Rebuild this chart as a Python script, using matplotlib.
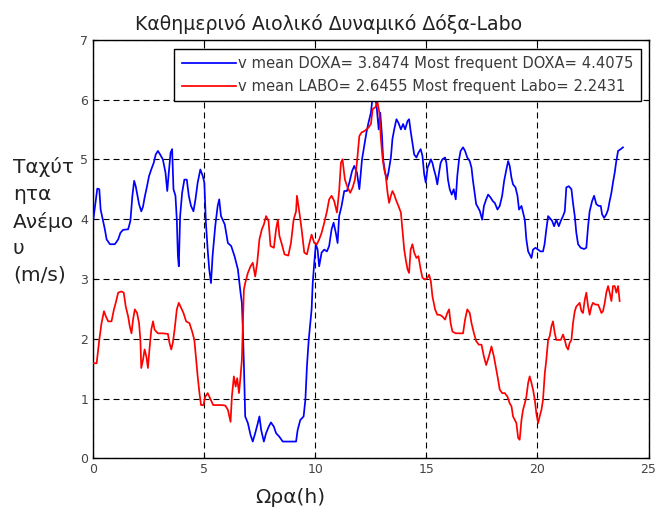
import matplotlib
matplotlib.use("Agg")
import matplotlib.pyplot as plt

# Wind speed samples over the day (hours, m/s)
doxa_hours = [
    0.00, 0.07, 0.18, 0.27, 0.33, 0.42, 0.52, 0.60, 0.75, 0.97, 1.12, 1.22, 1.34, 1.57, 1.67,
    1.76, 1.84, 1.91, 1.99, 2.06, 2.16, 2.24, 2.31, 2.42, 2.51, 2.61, 2.72, 2.81, 2.91, 3.01,
    3.13, 3.25, 3.33, 3.40, 3.48, 3.55, 3.61, 3.70, 3.76, 3.81, 3.85, 3.91, 4.00, 4.10, 4.21,
    4.30, 4.40, 4.51, 4.60, 4.70, 4.82, 4.93, 5.00, 5.07, 5.15, 5.22, 5.30, 5.37, 5.49, 5.60,
    5.67, 5.75, 5.92, 6.06, 6.21, 6.36, 6.51, 6.63, 6.69, 6.73, 6.78, 6.84, 6.96, 7.08, 7.18,
    7.29, 7.41, 7.48, 7.56, 7.68, 7.78, 7.90, 8.00, 8.13, 8.23, 8.38, 8.53, 8.83, 9.13, 9.20,
    9.32, 9.47, 9.55, 9.62, 9.70, 9.77, 9.83, 9.88, 9.95, 10.02, 10.10, 10.17, 10.28, 10.40, 10.52,
    10.62, 10.73, 10.82, 10.92, 11.00, 11.07, 11.18, 11.30, 11.42, 11.53, 11.65, 11.75, 11.87, 11.98, 12.10,
    12.20, 12.30, 12.39, 12.50, 12.58, 12.68, 12.76, 12.85, 12.92, 13.00, 13.05, 13.14, 13.22, 13.29, 13.40,
    13.47, 13.55, 13.65, 13.74, 13.85, 13.95, 14.04, 14.15, 14.22, 14.29, 14.37, 14.45, 14.55, 14.64, 14.74,
    14.82, 14.90, 14.97, 15.05, 15.12, 15.20, 15.27, 15.34, 15.42, 15.49, 15.57, 15.64, 15.72, 15.84, 15.90,
    15.97, 16.05, 16.14, 16.23, 16.32, 16.39, 16.47, 16.54, 16.65, 16.74, 16.84, 16.95, 17.03, 17.09, 17.17,
    17.24, 17.33, 17.41, 17.51, 17.59, 17.69, 17.78, 17.89, 17.99, 18.08, 18.20, 18.30, 18.41, 18.50, 18.60,
    18.68, 18.75, 18.83, 18.90, 19.01, 19.10, 19.17, 19.28, 19.35, 19.43, 19.50, 19.58, 19.65, 19.73, 19.80,
    19.91, 20.03, 20.13, 20.25, 20.32, 20.40, 20.48, 20.55, 20.66, 20.75, 20.85, 20.96, 21.05, 21.15, 21.23,
    21.30, 21.41, 21.53, 21.60, 21.68, 21.75, 21.83, 21.95, 22.10, 22.20, 22.28, 22.35, 22.46, 22.55, 22.65,
    22.76, 22.85, 22.91, 23.00, 23.10, 23.18, 23.25, 23.33, 23.40, 23.48, 23.55, 23.63, 23.75, 23.85,
]
doxa_speed = [
    3.99, 4.19, 4.51, 4.50, 4.16, 4.00, 3.83, 3.66, 3.58, 3.58, 3.66, 3.77, 3.82, 3.83, 3.97,
    4.39, 4.64, 4.55, 4.39, 4.25, 4.13, 4.21, 4.36, 4.55, 4.72, 4.83, 4.94, 5.08, 5.14, 5.08,
    5.00, 4.78, 4.47, 4.78, 5.11, 5.17, 4.50, 4.39, 3.99, 3.38, 3.21, 4.05, 4.44, 4.66, 4.66,
    4.39, 4.22, 4.13, 4.33, 4.61, 4.83, 4.72, 4.61, 3.94, 3.49, 3.16, 2.93, 3.38, 3.88, 4.22,
    4.33, 4.05, 3.91, 3.60, 3.55, 3.38, 3.16, 2.77, 2.60, 2.20, 1.59, 0.70, 0.59, 0.39, 0.28,
    0.42, 0.59, 0.70, 0.47, 0.28, 0.42, 0.53, 0.60, 0.53, 0.42, 0.36, 0.28, 0.28, 0.28, 0.47,
    0.64, 0.70, 0.98, 1.54, 1.98, 2.26, 2.49, 2.93, 3.27, 3.58, 3.49, 3.21, 3.44, 3.49, 3.46,
    3.55, 3.83, 3.94, 3.77, 3.60, 4.05, 4.22, 4.47, 4.47, 4.61, 4.80, 4.89, 4.78, 4.50, 5.00,
    5.22, 5.45, 5.61, 5.78, 6.05, 6.10, 5.87, 5.50, 5.78, 5.39, 5.00, 4.78, 4.66, 4.78, 5.03,
    5.34, 5.50, 5.67, 5.61, 5.50, 5.59, 5.50, 5.64, 5.67, 5.47, 5.28, 5.08, 5.03, 5.11, 5.17,
    5.06, 4.75, 4.61, 4.86, 4.92, 5.00, 4.94, 4.83, 4.72, 4.58, 4.78, 4.94, 5.00, 5.03, 4.94,
    4.66, 4.50, 4.41, 4.50, 4.33, 4.72, 5.00, 5.14, 5.20, 5.14, 5.03, 4.97, 4.86, 4.66, 4.44,
    4.25, 4.19, 4.13, 3.99, 4.22, 4.33, 4.41, 4.36, 4.30, 4.27, 4.16, 4.22, 4.39, 4.64, 4.83,
    4.97, 4.89, 4.69, 4.58, 4.53, 4.39, 4.16, 4.22, 4.11, 3.99, 3.66, 3.46, 3.41, 3.35, 3.49,
    3.52, 3.49, 3.46, 3.46, 3.58, 3.83, 4.05, 4.02, 3.97, 3.88, 3.99, 3.88, 3.97, 4.05, 4.13,
    4.53, 4.55, 4.50, 4.27, 4.05, 3.77, 3.58, 3.52, 3.50, 3.52, 3.88, 4.13, 4.30, 4.39, 4.25,
    4.22, 4.22, 4.08, 4.02, 4.08, 4.16, 4.30, 4.44, 4.61, 4.78, 4.97, 5.14, 5.17, 5.20,
]

labo_hours = [
    0.00, 0.15, 0.27, 0.37, 0.48, 0.57, 0.67, 0.82, 0.93, 1.01, 1.12, 1.27, 1.37, 1.46, 1.57,
    1.64, 1.72, 1.79, 1.87, 1.97, 2.06, 2.12, 2.16, 2.24, 2.31, 2.39, 2.46, 2.54, 2.61, 2.69,
    2.76, 2.91, 3.13, 3.36, 3.43, 3.51, 3.58, 3.66, 3.76, 3.85, 3.96, 4.06, 4.18, 4.33, 4.45,
    4.55, 4.63, 4.70, 4.78, 4.85, 4.96, 5.04, 5.15, 5.25, 5.40, 5.60, 5.82, 5.95, 6.06, 6.18,
    6.24, 6.33, 6.41, 6.48, 6.56, 6.63, 6.69, 6.73, 6.78, 6.84, 6.96, 7.08, 7.18, 7.29, 7.38,
    7.48, 7.59, 7.68, 7.78, 7.89, 7.98, 8.13, 8.23, 8.31, 8.38, 8.49, 8.61, 8.78, 8.90, 9.02,
    9.13, 9.17, 9.28, 9.38, 9.50, 9.62, 9.72, 9.83, 9.95, 10.07, 10.17, 10.28, 10.40, 10.52, 10.62,
    10.73, 10.85, 10.97, 11.07, 11.15, 11.22, 11.33, 11.45, 11.57, 11.68, 11.78, 11.87, 11.98, 12.08, 12.20,
    12.30, 12.39, 12.50, 12.58, 12.70, 12.80, 12.88, 12.95, 13.03, 13.10, 13.17, 13.25, 13.32, 13.40, 13.47,
    13.55, 13.62, 13.74, 13.85, 13.92, 14.00, 14.07, 14.15, 14.22, 14.29, 14.37, 14.45, 14.55, 14.64, 14.74,
    14.82, 14.94, 15.05, 15.12, 15.20, 15.27, 15.39, 15.49, 15.60, 15.72, 15.84, 15.94, 16.02, 16.09, 16.17,
    16.32, 16.47, 16.65, 16.74, 16.84, 16.95, 17.03, 17.14, 17.24, 17.36, 17.48, 17.59, 17.69, 17.81, 17.93,
    18.04, 18.15, 18.23, 18.30, 18.41, 18.53, 18.65, 18.75, 18.83, 18.90, 18.98, 19.05, 19.13, 19.20, 19.28,
    19.35, 19.43, 19.50, 19.58, 19.65, 19.73, 19.80, 19.88, 19.95, 20.03, 20.10, 20.18, 20.25, 20.33, 20.40,
    20.48, 20.55, 20.63, 20.70, 20.78, 20.85, 20.96, 21.05, 21.15, 21.23, 21.30, 21.38, 21.45, 21.53, 21.60,
    21.68, 21.75, 21.83, 21.90, 21.98, 22.05, 22.13, 22.20, 22.28, 22.35, 22.43, 22.50, 22.61, 22.73, 22.80,
    22.88, 22.95, 23.03, 23.10, 23.18, 23.25, 23.33, 23.40, 23.48, 23.55, 23.63, 23.70,
]
labo_speed = [
    1.59, 1.59, 1.98, 2.26, 2.46, 2.37, 2.29, 2.29, 2.49, 2.60, 2.77, 2.79, 2.77, 2.54, 2.37,
    2.21, 2.09, 2.32, 2.49, 2.43, 2.26, 1.98, 1.51, 1.65, 1.82, 1.70, 1.51, 1.87, 2.15, 2.29,
    2.15, 2.09, 2.09, 2.08, 1.93, 1.82, 1.93, 2.15, 2.49, 2.60, 2.51, 2.43, 2.29, 2.26, 2.12,
    1.98, 1.65, 1.37, 1.09, 0.89, 0.89, 1.03, 1.09, 1.01, 0.89, 0.89, 0.89, 0.88, 0.81, 0.61,
    1.03, 1.37, 1.20, 1.34, 1.09, 1.37, 1.65, 2.20, 2.82, 2.93, 3.10, 3.21, 3.27, 3.04, 3.27,
    3.66, 3.83, 3.91, 4.05, 3.97, 3.55, 3.52, 3.83, 3.99, 3.72, 3.58, 3.41, 3.39, 3.60, 3.99,
    4.13, 4.39, 4.11, 3.83, 3.44, 3.41, 3.58, 3.74, 3.60, 3.58, 3.66, 3.77, 3.94, 4.13, 4.33,
    4.39, 4.30, 4.11, 4.47, 4.94, 5.00, 4.66, 4.53, 4.44, 4.53, 4.66, 4.94, 5.39, 5.45, 5.47,
    5.50, 5.53, 5.59, 5.84, 5.87, 5.95, 5.78, 5.34, 5.00, 4.83, 4.72, 4.44, 4.27, 4.39, 4.47,
    4.41, 4.33, 4.22, 4.11, 3.83, 3.49, 3.32, 3.16, 3.10, 3.49, 3.58, 3.44, 3.35, 3.38, 3.16,
    3.02, 2.99, 3.02, 3.07, 2.96, 2.71, 2.49, 2.40, 2.40, 2.37, 2.32, 2.43, 2.49, 2.26, 2.12,
    2.09, 2.09, 2.09, 2.32, 2.49, 2.43, 2.26, 2.09, 1.96, 1.90, 1.90, 1.70, 1.56, 1.70, 1.87,
    1.70, 1.48, 1.31, 1.15, 1.09, 1.09, 1.03, 0.92, 0.87, 0.70, 0.64, 0.59, 0.34, 0.31, 0.64,
    0.81, 0.92, 1.03, 1.26, 1.37, 1.26, 1.15, 0.98, 0.75, 0.59, 0.70, 0.81, 0.98, 1.42, 1.65,
    1.98, 2.04, 2.21, 2.29, 2.09, 1.98, 1.98, 1.98, 2.07, 1.98, 1.87, 1.82, 1.93, 1.98, 2.26,
    2.46, 2.54, 2.57, 2.60, 2.46, 2.43, 2.65, 2.77, 2.54, 2.40, 2.54, 2.60, 2.57, 2.57, 2.51,
    2.43, 2.46, 2.60, 2.77, 2.88, 2.77, 2.63, 2.88, 2.88, 2.77, 2.88, 2.63,
]

doxa_label = "v mean DOXA= 3.8474 Most frequent DOXA= 4.4075"
labo_label = "v mean LABO= 2.6455 Most frequent Labo= 2.2431"
title_text = "Καθημερινό Αιολικό Δυναμικό Δόξα-Labo"
ylabel_text = "Ταχύτ\nητα\nΑνέμο\nυ\n(m/s)"
xlabel_text = "Ωρα(h)"
x_ticks = [0, 5, 10, 15, 20, 25]
y_ticks = [0, 1, 2, 3, 4, 5, 6, 7]

W, H = 656, 515
fig = plt.figure(figsize=(W / 100, H / 100), dpi=100)
fig.patch.set_facecolor("white")

left, right, bottom, top = 93.3, 648.5, 458.3, 39.7
ax = fig.add_axes([left / W, 1 - bottom / H, (right - left) / W, (bottom - top) / H])

ax.plot(doxa_hours, doxa_speed, color="#0000ff", lw=1.25, label=doxa_label, zorder=3)
ax.plot(labo_hours, labo_speed, color="#ff0000", lw=1.25, label=labo_label, zorder=3)

ax.set_xlim(0, 25)
ax.set_ylim(0, 7)
ax.set_xticks(x_ticks)
ax.set_yticks(y_ticks)
ax.grid(True, color="black", lw=0.8, linestyle=(0, (5.4, 3.6)))
ax.set_axisbelow(True)
ax.tick_params(direction="in", length=3.2, width=0.8, top=True, right=True,
               labelsize=9, labelcolor="#444444", pad=3.5)
for s in ax.spines.values():
    s.set_linewidth(1.0)
    s.set_color("black")

leg = ax.legend(loc="upper right", bbox_to_anchor=(641 / W, 1 - 49 / H),
                bbox_transform=fig.transFigure, borderaxespad=0, fancybox=False,
                framealpha=1, edgecolor="black", fontsize=10.6, handlelength=3.7,
                handletextpad=0.15, borderpad=0.5, labelspacing=0.5)
leg.get_frame().set_linewidth(1.0)
for t in leg.get_texts():
    t.set_color("#3a3a3a")
leg.set_zorder(5)

fig.text(329 / W, 1 - 30 / H, title_text, ha="center", va="baseline",
         fontsize=13.6, color="#222222")
fig.text(13 / W, 1 - 157 / H, ylabel_text, ha="left", va="top",
         fontsize=14.5, color="#222222", linespacing=1.5)
fig.text(290 / W, 1 - 503 / H, xlabel_text, ha="center", va="baseline",
         fontsize=14.5, color="#222222")

fig.savefig("out.png", dpi=100)
